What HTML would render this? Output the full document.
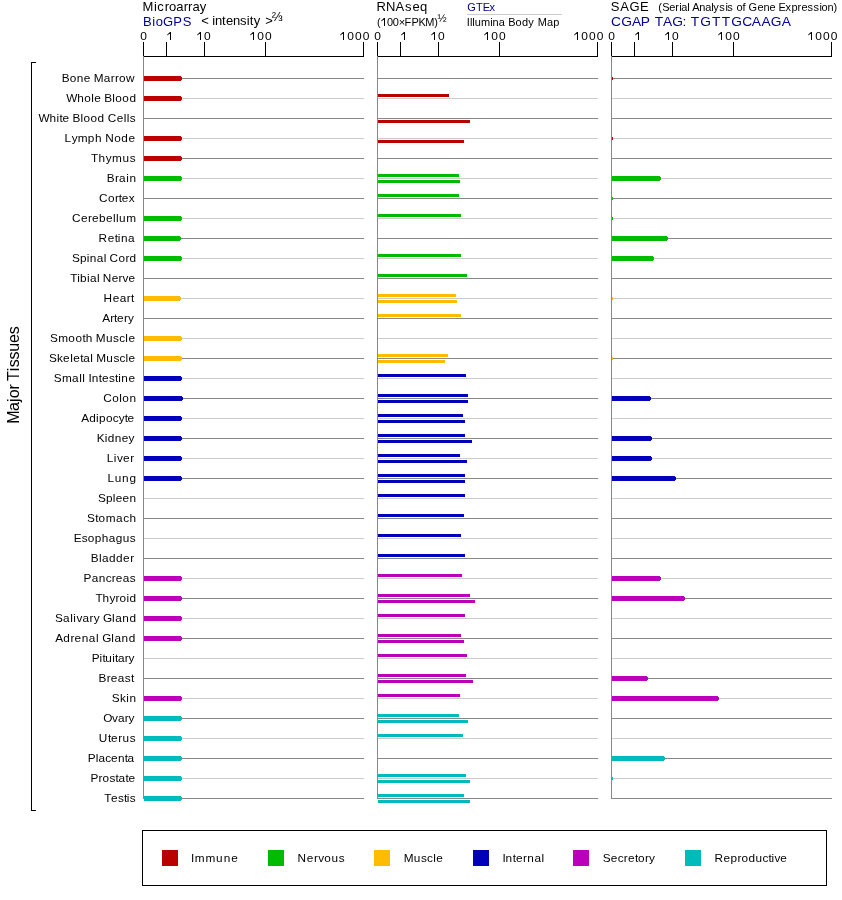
<!DOCTYPE html>
<html><head><meta charset="utf-8"><style>
html,body{margin:0;padding:0;background:#fff;}
#w{will-change:transform;width:842px;height:900px;}
svg{display:block;}
text{font-family:"Liberation Sans", sans-serif;}
</style></head><body><div id="w">
<svg width="842" height="900" viewBox="0 0 842 900" shape-rendering="crispEdges">
<text x="142.53 153.9 157.27 164.63 169.0 176.36 183.73 188.09 192.46 199.83" y="11" font-size="13" fill="#000" color="#000">Microarray</text>
<text x="142.93 152.29 155.65 163.01 173.37 182.73" y="26" font-size="13" fill="#000090" color="#000090">BioGPS</text>
<text x="201.36" y="25" font-size="13" fill="#000" color="#000">&lt;</text>
<text x="212.13 215.08 222.03 225.98 232.93 239.88 246.83 249.78 253.73" y="25" font-size="13" fill="#000" color="#000">intensity</text>
<text x="265.36" y="25" font-size="13" fill="#000" color="#000">&gt;</text>
<text x="271.78" y="21" font-size="13" fill="#000" color="#000">⅔</text>
<text x="376.53 386.01 395.48 404.95 412.43 419.9" y="11" font-size="13" fill="#000" color="#000">RNAseq</text>
<rect x="384" y="18" width="1" height="8" fill="#000"/>
<path d="M385 18 L384 18 L381.3 20.6 L381.3 21.5 L384.2 19.2 Z" fill="#000" shape-rendering="geometricPrecision"/>
<text transform="translate(0 26) scale(1 0.95)" x="377.12 386.92 392.82 398.72 404.62 411.52 418.42 425.32 434.22" y="0" font-size="11" fill="#000" color="#000">(00×FPKM)</text>
<text x="437.5" y="22" font-size="11" fill="#000" color="#000">½</text>
<text transform="translate(0 11) scale(1 0.94)" x="467.25 476.04 482.83 489.62" y="0" font-size="11" fill="#000090" color="#000090">GTEx</text>
<rect x="467" y="14" width="95" height="1" fill="#cccccc"/>
<text transform="translate(0 26) scale(1 0.95)" x="466.78 470.07 472.35 474.64 480.92 490.21 492.49 498.78 508.35 515.63 521.92 528.2 537.77 547.06 553.34" y="0" font-size="11" fill="#000" color="#000">IlluminaBodyMap</text>
<text x="610.81 620.17 629.53 639.89" y="11" font-size="13" fill="#000" color="#000">SAGE</text>
<text transform="translate(0 11) scale(1 0.94)" x="658.22 662.23 669.24 675.25 679.26 681.28 687.29 692.31 699.32 705.33 711.34 713.36 719.37 725.38 727.39 736.41 742.42 748.45 757.46 763.47 769.48 778.5 785.52 791.53 797.54 801.55 807.56 813.57 819.58 821.6 827.61 833.62" y="0" font-size="11" fill="#000" color="#000">(SerialAnalysisofGeneExpression)</text>
<text transform="scale(1.06 1)" x="576.51 586.044 596.201 604.405 617.585 625.446 634.252 643.813 651.595 660.667 671.689 680.84 689.912 700.283 709.314 718.371 727.082 737.427" y="26" font-size="13" fill="#000090">CGAPTAG:TGTTGCAAGA</text>
<rect x="143" y="56" width="221" height="1" fill="#000"/>
<rect x="143" y="42" width="1" height="14" fill="#000"/>
<rect x="166" y="42" width="1" height="14" fill="#000"/>
<rect x="204" y="42" width="1" height="14" fill="#000"/>
<rect x="265" y="42" width="1" height="14" fill="#000"/>
<rect x="363" y="42" width="1" height="14" fill="#000"/>
<rect x="377" y="56" width="221" height="1" fill="#000"/>
<rect x="377" y="42" width="1" height="14" fill="#000"/>
<rect x="400" y="42" width="1" height="14" fill="#000"/>
<rect x="438" y="42" width="1" height="14" fill="#000"/>
<rect x="499" y="42" width="1" height="14" fill="#000"/>
<rect x="597" y="42" width="1" height="14" fill="#000"/>
<rect x="611" y="56" width="221" height="1" fill="#000"/>
<rect x="611" y="42" width="1" height="14" fill="#000"/>
<rect x="634" y="42" width="1" height="14" fill="#000"/>
<rect x="672" y="42" width="1" height="14" fill="#000"/>
<rect x="733" y="42" width="1" height="14" fill="#000"/>
<rect x="831" y="42" width="1" height="14" fill="#000"/>
<text transform="translate(0 40) scale(1 0.95)" x="140.28" y="0" font-size="12" fill="#000" color="#000">0</text>
<rect x="170" y="32" width="1" height="8" fill="#000"/>
<path d="M171 32 L170 32 L167.3 34.6 L167.3 35.5 L170.2 33.2 Z" fill="#000" shape-rendering="geometricPrecision"/>
<rect x="200" y="32" width="1" height="8" fill="#000"/>
<path d="M201 32 L200 32 L197.3 34.6 L197.3 35.5 L200.2 33.2 Z" fill="#000" shape-rendering="geometricPrecision"/>
<text transform="translate(0 40) scale(1 0.95)" x="203.89" y="0" font-size="12" fill="#000" color="#000">0</text>
<rect x="253" y="32" width="1" height="8" fill="#000"/>
<path d="M254 32 L253 32 L250.3 34.6 L250.3 35.5 L253.2 33.2 Z" fill="#000" shape-rendering="geometricPrecision"/>
<text transform="translate(0 40) scale(1 0.95)" x="257.19 264.99" y="0" font-size="12" fill="#000" color="#000">00</text>
<rect x="343" y="32" width="1" height="8" fill="#000"/>
<path d="M344 32 L343 32 L340.3 34.6 L340.3 35.5 L343.2 33.2 Z" fill="#000" shape-rendering="geometricPrecision"/>
<text transform="translate(0 40) scale(1 0.95)" x="347.22 354.96 362.69" y="0" font-size="12" fill="#000" color="#000">000</text>
<text transform="translate(0 40) scale(1 0.95)" x="374.28" y="0" font-size="12" fill="#000" color="#000">0</text>
<rect x="404" y="32" width="1" height="8" fill="#000"/>
<path d="M405 32 L404 32 L401.3 34.6 L401.3 35.5 L404.2 33.2 Z" fill="#000" shape-rendering="geometricPrecision"/>
<rect x="434" y="32" width="1" height="8" fill="#000"/>
<path d="M435 32 L434 32 L431.3 34.6 L431.3 35.5 L434.2 33.2 Z" fill="#000" shape-rendering="geometricPrecision"/>
<text transform="translate(0 40) scale(1 0.95)" x="437.89" y="0" font-size="12" fill="#000" color="#000">0</text>
<rect x="487" y="32" width="1" height="8" fill="#000"/>
<path d="M488 32 L487 32 L484.3 34.6 L484.3 35.5 L487.2 33.2 Z" fill="#000" shape-rendering="geometricPrecision"/>
<text transform="translate(0 40) scale(1 0.95)" x="491.19 498.99" y="0" font-size="12" fill="#000" color="#000">00</text>
<rect x="577" y="32" width="1" height="8" fill="#000"/>
<path d="M578 32 L577 32 L574.3 34.6 L574.3 35.5 L577.2 33.2 Z" fill="#000" shape-rendering="geometricPrecision"/>
<text transform="translate(0 40) scale(1 0.95)" x="581.22 588.96 596.69" y="0" font-size="12" fill="#000" color="#000">000</text>
<text transform="translate(0 40) scale(1 0.95)" x="608.28" y="0" font-size="12" fill="#000" color="#000">0</text>
<rect x="638" y="32" width="1" height="8" fill="#000"/>
<path d="M639 32 L638 32 L635.3 34.6 L635.3 35.5 L638.2 33.2 Z" fill="#000" shape-rendering="geometricPrecision"/>
<rect x="668" y="32" width="1" height="8" fill="#000"/>
<path d="M669 32 L668 32 L665.3 34.6 L665.3 35.5 L668.2 33.2 Z" fill="#000" shape-rendering="geometricPrecision"/>
<text transform="translate(0 40) scale(1 0.95)" x="671.89" y="0" font-size="12" fill="#000" color="#000">0</text>
<rect x="721" y="32" width="1" height="8" fill="#000"/>
<path d="M722 32 L721 32 L718.3 34.6 L718.3 35.5 L721.2 33.2 Z" fill="#000" shape-rendering="geometricPrecision"/>
<text transform="translate(0 40) scale(1 0.95)" x="725.19 732.99" y="0" font-size="12" fill="#000" color="#000">00</text>
<rect x="811" y="32" width="1" height="8" fill="#000"/>
<path d="M812 32 L811 32 L808.3 34.6 L808.3 35.5 L811.2 33.2 Z" fill="#000" shape-rendering="geometricPrecision"/>
<text transform="translate(0 40) scale(1 0.95)" x="815.22 822.96 830.69" y="0" font-size="12" fill="#000" color="#000">000</text>
<rect x="143" y="78" width="221" height="1" fill="#888888"/>
<rect x="377" y="78" width="221" height="1" fill="#888888"/>
<rect x="611" y="78" width="221" height="1" fill="#888888"/>
<text transform="translate(0 82) scale(1 0.97)" x="61.73 69.75 76.78 83.8 93.84 103.86 110.88 114.91 118.93 125.95" y="0" font-size="11.8" fill="#000" color="#000">BoneMarrow</text>
<rect x="143" y="98" width="221" height="1" fill="#cccccc"/>
<rect x="377" y="98" width="221" height="1" fill="#cccccc"/>
<rect x="611" y="98" width="221" height="1" fill="#cccccc"/>
<text transform="translate(0 102) scale(1 0.97)" x="66.25 77.26 84.28 91.29 94.31 104.34 112.35 115.37 122.38 129.4" y="0" font-size="11.8" fill="#000" color="#000">WholeBlood</text>
<rect x="143" y="118" width="221" height="1" fill="#888888"/>
<rect x="377" y="118" width="221" height="1" fill="#888888"/>
<rect x="611" y="118" width="221" height="1" fill="#888888"/>
<text transform="translate(0 122) scale(1 0.97)" x="38.45 49.47 56.48 59.5 62.52 72.55 80.57 83.59 90.6 97.62 107.66 116.67 123.69 126.71 129.73" y="0" font-size="11.8" fill="#000" color="#000">WhiteBloodCells</text>
<rect x="143" y="138" width="221" height="1" fill="#cccccc"/>
<rect x="377" y="138" width="221" height="1" fill="#cccccc"/>
<rect x="611" y="138" width="221" height="1" fill="#cccccc"/>
<text transform="translate(0 142) scale(1 0.97)" x="64.53 71.64 77.74 87.84 94.95 105.15 114.26 121.36 128.46" y="0" font-size="11.8" fill="#000" color="#000">LymphNode</text>
<rect x="143" y="158" width="221" height="1" fill="#888888"/>
<rect x="377" y="158" width="221" height="1" fill="#888888"/>
<rect x="611" y="158" width="221" height="1" fill="#888888"/>
<text transform="translate(0 162) scale(1 0.97)" x="91.13 98.45 105.77 112.09 122.41 129.73" y="0" font-size="11.8" fill="#000" color="#000">Thymus</text>
<rect x="143" y="178" width="221" height="1" fill="#cccccc"/>
<rect x="377" y="178" width="221" height="1" fill="#cccccc"/>
<rect x="611" y="178" width="221" height="1" fill="#cccccc"/>
<text transform="translate(0 182) scale(1 0.97)" x="106.73 114.9 119.07 126.24 129.4" y="0" font-size="11.8" fill="#000" color="#000">Brain</text>
<rect x="143" y="198" width="221" height="1" fill="#888888"/>
<rect x="377" y="198" width="221" height="1" fill="#888888"/>
<rect x="611" y="198" width="221" height="1" fill="#888888"/>
<text transform="translate(0 202) scale(1 0.97)" x="99.0 107.95 114.89 118.84 121.78 128.73" y="0" font-size="11.8" fill="#000" color="#000">Cortex</text>
<rect x="143" y="218" width="221" height="1" fill="#cccccc"/>
<rect x="377" y="218" width="221" height="1" fill="#cccccc"/>
<rect x="611" y="218" width="221" height="1" fill="#cccccc"/>
<text transform="translate(0 222) scale(1 0.97)" x="71.9 80.93 87.96 91.98 99.01 106.04 113.07 116.09 119.12 126.15" y="0" font-size="11.8" fill="#000" color="#000">Cerebellum</text>
<rect x="143" y="238" width="221" height="1" fill="#888888"/>
<rect x="377" y="238" width="221" height="1" fill="#888888"/>
<rect x="611" y="238" width="221" height="1" fill="#888888"/>
<text transform="translate(0 242) scale(1 0.97)" x="98.63 107.69 114.75 117.82 120.88 127.94" y="0" font-size="11.8" fill="#000" color="#000">Retina</text>
<rect x="143" y="258" width="221" height="1" fill="#cccccc"/>
<rect x="377" y="258" width="221" height="1" fill="#cccccc"/>
<rect x="611" y="258" width="221" height="1" fill="#cccccc"/>
<text transform="translate(0 262) scale(1 0.97)" x="71.96 79.91 86.85 89.79 96.74 103.68 109.57 118.51 125.45 129.4" y="0" font-size="11.8" fill="#000" color="#000">SpinalCord</text>
<rect x="143" y="278" width="221" height="1" fill="#888888"/>
<rect x="377" y="278" width="221" height="1" fill="#888888"/>
<rect x="611" y="278" width="221" height="1" fill="#888888"/>
<text transform="translate(0 282) scale(1 0.97)" x="70.23 77.16 80.09 87.02 89.95 96.88 102.74 111.67 118.6 122.53 128.46" y="0" font-size="11.8" fill="#000" color="#000">TibialNerve</text>
<rect x="143" y="298" width="221" height="1" fill="#cccccc"/>
<rect x="377" y="298" width="221" height="1" fill="#cccccc"/>
<rect x="611" y="298" width="221" height="1" fill="#cccccc"/>
<text transform="translate(0 302) scale(1 0.97)" x="103.53 112.63 119.72 126.81 130.91" y="0" font-size="11.8" fill="#000" color="#000">Heart</text>
<rect x="143" y="318" width="221" height="1" fill="#888888"/>
<rect x="377" y="318" width="221" height="1" fill="#888888"/>
<rect x="611" y="318" width="221" height="1" fill="#888888"/>
<text transform="translate(0 322) scale(1 0.97)" x="102.18 110.15 114.12 117.08 124.05 128.02" y="0" font-size="11.8" fill="#000" color="#000">Artery</text>
<rect x="143" y="338" width="221" height="1" fill="#cccccc"/>
<rect x="377" y="338" width="221" height="1" fill="#cccccc"/>
<rect x="611" y="338" width="221" height="1" fill="#cccccc"/>
<text transform="translate(0 342) scale(1 0.97)" x="50.06 58.18 68.3 75.41 82.53 85.65 95.88 106.0 113.11 119.23 125.35 128.46" y="0" font-size="11.8" fill="#000" color="#000">SmoothMuscle</text>
<rect x="143" y="358" width="221" height="1" fill="#888888"/>
<rect x="377" y="358" width="221" height="1" fill="#888888"/>
<rect x="611" y="358" width="221" height="1" fill="#888888"/>
<text transform="translate(0 362) scale(1 0.97)" x="49.06 57.09 63.12 70.15 73.18 80.21 83.23 90.26 96.32 106.35 113.38 119.4 125.43 128.46" y="0" font-size="11.8" fill="#000" color="#000">SkeletalMuscle</text>
<rect x="143" y="378" width="221" height="1" fill="#cccccc"/>
<rect x="377" y="378" width="221" height="1" fill="#cccccc"/>
<rect x="611" y="378" width="221" height="1" fill="#cccccc"/>
<text transform="translate(0 382) scale(1 0.97)" x="53.86 61.98 72.09 79.21 82.32 88.55 91.66 98.78 101.89 109.01 115.12 118.23 121.35 128.46" y="0" font-size="11.8" fill="#000" color="#000">SmallIntestine</text>
<rect x="143" y="398" width="221" height="1" fill="#888888"/>
<rect x="377" y="398" width="221" height="1" fill="#888888"/>
<rect x="611" y="398" width="221" height="1" fill="#888888"/>
<text transform="translate(0 402) scale(1 0.97)" x="103.2 112.25 119.3 122.35 129.4" y="0" font-size="11.8" fill="#000" color="#000">Colon</text>
<rect x="143" y="418" width="221" height="1" fill="#cccccc"/>
<rect x="377" y="418" width="221" height="1" fill="#cccccc"/>
<rect x="611" y="418" width="221" height="1" fill="#cccccc"/>
<text transform="translate(0 422) scale(1 0.97)" x="81.28 89.19 96.1 99.01 105.92 112.83 118.74 124.65 127.56" y="0" font-size="11.8" fill="#000" color="#000">Adipocyte</text>
<rect x="143" y="438" width="221" height="1" fill="#888888"/>
<rect x="377" y="438" width="221" height="1" fill="#888888"/>
<rect x="611" y="438" width="221" height="1" fill="#888888"/>
<text transform="translate(0 442) scale(1 0.97)" x="96.73 104.71 107.69 114.67 121.64 128.62" y="0" font-size="11.8" fill="#000" color="#000">Kidney</text>
<rect x="143" y="458" width="221" height="1" fill="#cccccc"/>
<rect x="377" y="458" width="221" height="1" fill="#cccccc"/>
<rect x="611" y="458" width="221" height="1" fill="#cccccc"/>
<text transform="translate(0 462) scale(1 0.97)" x="106.73 113.84 116.95 123.06 130.17" y="0" font-size="11.8" fill="#000" color="#000">Liver</text>
<rect x="143" y="478" width="221" height="1" fill="#888888"/>
<rect x="377" y="478" width="221" height="1" fill="#888888"/>
<rect x="611" y="478" width="221" height="1" fill="#888888"/>
<text transform="translate(0 482) scale(1 0.97)" x="107.43 114.75 122.08 129.4" y="0" font-size="11.8" fill="#000" color="#000">Lung</text>
<rect x="143" y="498" width="221" height="1" fill="#cccccc"/>
<rect x="377" y="498" width="221" height="1" fill="#cccccc"/>
<rect x="611" y="498" width="221" height="1" fill="#cccccc"/>
<text transform="translate(0 502) scale(1 0.97)" x="98.06 105.93 112.8 115.67 122.54 129.4" y="0" font-size="11.8" fill="#000" color="#000">Spleen</text>
<rect x="143" y="518" width="221" height="1" fill="#888888"/>
<rect x="377" y="518" width="221" height="1" fill="#888888"/>
<rect x="611" y="518" width="221" height="1" fill="#888888"/>
<text transform="translate(0 522) scale(1 0.97)" x="86.96 95.2 98.44 105.68 115.92 123.16 129.4" y="0" font-size="11.8" fill="#000" color="#000">Stomach</text>
<rect x="143" y="538" width="221" height="1" fill="#cccccc"/>
<rect x="377" y="538" width="221" height="1" fill="#cccccc"/>
<rect x="611" y="538" width="221" height="1" fill="#cccccc"/>
<text transform="translate(0 542) scale(1 0.97)" x="73.83 81.82 87.81 94.79 101.78 108.77 115.75 122.74 129.73" y="0" font-size="11.8" fill="#000" color="#000">Esophagus</text>
<rect x="143" y="558" width="221" height="1" fill="#888888"/>
<rect x="377" y="558" width="221" height="1" fill="#888888"/>
<rect x="611" y="558" width="221" height="1" fill="#888888"/>
<text transform="translate(0 562) scale(1 0.97)" x="90.83 98.89 101.94 109.0 116.05 123.11 130.17" y="0" font-size="11.8" fill="#000" color="#000">Bladder</text>
<rect x="143" y="578" width="221" height="1" fill="#cccccc"/>
<rect x="377" y="578" width="221" height="1" fill="#cccccc"/>
<rect x="611" y="578" width="221" height="1" fill="#cccccc"/>
<text transform="translate(0 582) scale(1 0.97)" x="83.63 91.65 98.66 105.67 111.69 115.7 122.71 129.73" y="0" font-size="11.8" fill="#000" color="#000">Pancreas</text>
<rect x="143" y="598" width="221" height="1" fill="#888888"/>
<rect x="377" y="598" width="221" height="1" fill="#888888"/>
<rect x="611" y="598" width="221" height="1" fill="#888888"/>
<text transform="translate(0 602) scale(1 0.97)" x="95.43 102.43 109.42 115.42 119.41 126.4 129.4" y="0" font-size="11.8" fill="#000" color="#000">Thyroid</text>
<rect x="143" y="618" width="221" height="1" fill="#cccccc"/>
<rect x="377" y="618" width="221" height="1" fill="#cccccc"/>
<rect x="611" y="618" width="221" height="1" fill="#cccccc"/>
<text transform="translate(0 622) scale(1 0.97)" x="54.96 63.07 70.18 73.3 76.41 82.52 89.63 93.74 102.96 112.07 115.18 122.29 129.4" y="0" font-size="11.8" fill="#000" color="#000">SalivaryGland</text>
<rect x="143" y="638" width="221" height="1" fill="#888888"/>
<rect x="377" y="638" width="221" height="1" fill="#888888"/>
<rect x="611" y="638" width="221" height="1" fill="#888888"/>
<text transform="translate(0 642) scale(1 0.97)" x="55.18 63.3 70.43 74.56 81.68 88.81 95.94 102.19 111.32 114.44 121.57 128.7" y="0" font-size="11.8" fill="#000" color="#000">AdrenalGland</text>
<rect x="143" y="658" width="221" height="1" fill="#cccccc"/>
<rect x="377" y="658" width="221" height="1" fill="#cccccc"/>
<rect x="611" y="658" width="221" height="1" fill="#cccccc"/>
<text transform="translate(0 662) scale(1 0.97)" x="91.73 99.59 102.45 105.32 112.18 115.04 117.9 124.76 128.62" y="0" font-size="11.8" fill="#000" color="#000">Pituitary</text>
<rect x="143" y="678" width="221" height="1" fill="#888888"/>
<rect x="377" y="678" width="221" height="1" fill="#888888"/>
<rect x="611" y="678" width="221" height="1" fill="#888888"/>
<text transform="translate(0 682) scale(1 0.97)" x="98.63 106.69 110.74 117.8 124.85 130.91" y="0" font-size="11.8" fill="#000" color="#000">Breast</text>
<rect x="143" y="698" width="221" height="1" fill="#cccccc"/>
<rect x="377" y="698" width="221" height="1" fill="#cccccc"/>
<rect x="611" y="698" width="221" height="1" fill="#cccccc"/>
<text transform="translate(0 702) scale(1 0.97)" x="111.76 119.98 126.19 129.4" y="0" font-size="11.8" fill="#000" color="#000">Skin</text>
<rect x="143" y="718" width="221" height="1" fill="#888888"/>
<rect x="377" y="718" width="221" height="1" fill="#888888"/>
<rect x="611" y="718" width="221" height="1" fill="#888888"/>
<text transform="translate(0 722) scale(1 0.97)" x="103.24 112.09 117.93 124.78 128.62" y="0" font-size="11.8" fill="#000" color="#000">Ovary</text>
<rect x="143" y="738" width="221" height="1" fill="#cccccc"/>
<rect x="377" y="738" width="221" height="1" fill="#cccccc"/>
<rect x="611" y="738" width="221" height="1" fill="#cccccc"/>
<text transform="translate(0 742) scale(1 0.97)" x="98.69 107.9 111.1 118.31 122.52 129.73" y="0" font-size="11.8" fill="#000" color="#000">Uterus</text>
<rect x="143" y="758" width="221" height="1" fill="#888888"/>
<rect x="377" y="758" width="221" height="1" fill="#888888"/>
<rect x="611" y="758" width="221" height="1" fill="#888888"/>
<text transform="translate(0 762) scale(1 0.97)" x="87.83 95.65 98.46 105.28 111.09 117.91 124.72 127.54" y="0" font-size="11.8" fill="#000" color="#000">Placenta</text>
<rect x="143" y="778" width="221" height="1" fill="#cccccc"/>
<rect x="377" y="778" width="221" height="1" fill="#cccccc"/>
<rect x="611" y="778" width="221" height="1" fill="#cccccc"/>
<text transform="translate(0 782) scale(1 0.97)" x="90.43 98.44 102.44 109.44 115.45 118.45 125.46 128.46" y="0" font-size="11.8" fill="#000" color="#000">Prostate</text>
<rect x="143" y="798" width="221" height="1" fill="#888888"/>
<rect x="377" y="798" width="221" height="1" fill="#888888"/>
<rect x="611" y="798" width="221" height="1" fill="#888888"/>
<text transform="translate(0 802) scale(1 0.97)" x="104.23 111.13 118.03 123.93 126.83 129.73" y="0" font-size="11.8" fill="#000" color="#000">Testis</text>
<rect x="143" y="56" width="1" height="743" fill="#888888"/>
<rect x="377" y="56" width="1" height="743" fill="#888888"/>
<rect x="611" y="56" width="1" height="743" fill="#888888"/>
<rect x="144" y="76" width="37" height="5" fill="#bb0000"/>
<rect x="181" y="77" width="1" height="3" fill="#bb0000"/>
<rect x="612" y="77" width="1" height="3" fill="#bb0000"/>
<rect x="144" y="96" width="37" height="5" fill="#bb0000"/>
<rect x="181" y="97" width="1" height="3" fill="#bb0000"/>
<rect x="378" y="94" width="71" height="3" fill="#bb0000"/>
<rect x="378" y="120" width="92" height="3" fill="#bb0000"/>
<rect x="144" y="136" width="37" height="5" fill="#bb0000"/>
<rect x="181" y="137" width="1" height="3" fill="#bb0000"/>
<rect x="378" y="140" width="86" height="3" fill="#bb0000"/>
<rect x="612" y="137" width="1" height="3" fill="#bb0000"/>
<rect x="144" y="156" width="37" height="5" fill="#bb0000"/>
<rect x="181" y="157" width="1" height="3" fill="#bb0000"/>
<rect x="144" y="176" width="37" height="5" fill="#00bb00"/>
<rect x="181" y="177" width="1" height="3" fill="#00bb00"/>
<rect x="378" y="174" width="81" height="3" fill="#00bb00"/>
<rect x="378" y="180" width="82" height="3" fill="#00bb00"/>
<rect x="612" y="176" width="48" height="5" fill="#00bb00"/>
<rect x="660" y="177" width="1" height="3" fill="#00bb00"/>
<rect x="378" y="194" width="81" height="3" fill="#00bb00"/>
<rect x="612" y="197" width="1" height="3" fill="#00bb00"/>
<rect x="144" y="216" width="37" height="5" fill="#00bb00"/>
<rect x="181" y="217" width="1" height="3" fill="#00bb00"/>
<rect x="378" y="214" width="83" height="3" fill="#00bb00"/>
<rect x="612" y="217" width="1" height="3" fill="#00bb00"/>
<rect x="144" y="236" width="36" height="5" fill="#00bb00"/>
<rect x="180" y="237" width="1" height="3" fill="#00bb00"/>
<rect x="612" y="236" width="55" height="5" fill="#00bb00"/>
<rect x="667" y="237" width="1" height="3" fill="#00bb00"/>
<rect x="144" y="256" width="37" height="5" fill="#00bb00"/>
<rect x="181" y="257" width="1" height="3" fill="#00bb00"/>
<rect x="378" y="254" width="83" height="3" fill="#00bb00"/>
<rect x="612" y="256" width="41" height="5" fill="#00bb00"/>
<rect x="653" y="257" width="1" height="3" fill="#00bb00"/>
<rect x="378" y="274" width="89" height="3" fill="#00bb00"/>
<rect x="144" y="296" width="36" height="5" fill="#ffbb00"/>
<rect x="180" y="297" width="1" height="3" fill="#ffbb00"/>
<rect x="378" y="294" width="78" height="3" fill="#ffbb00"/>
<rect x="378" y="300" width="79" height="3" fill="#ffbb00"/>
<rect x="612" y="297" width="1" height="3" fill="#ffbb00"/>
<rect x="378" y="314" width="83" height="3" fill="#ffbb00"/>
<rect x="144" y="336" width="37" height="5" fill="#ffbb00"/>
<rect x="181" y="337" width="1" height="3" fill="#ffbb00"/>
<rect x="144" y="356" width="37" height="5" fill="#ffbb00"/>
<rect x="181" y="357" width="1" height="3" fill="#ffbb00"/>
<rect x="378" y="354" width="70" height="3" fill="#ffbb00"/>
<rect x="378" y="360" width="67" height="3" fill="#ffbb00"/>
<rect x="612" y="357" width="1" height="3" fill="#ffbb00"/>
<rect x="144" y="376" width="37" height="5" fill="#0000bb"/>
<rect x="181" y="377" width="1" height="3" fill="#0000bb"/>
<rect x="378" y="374" width="88" height="3" fill="#0000bb"/>
<rect x="144" y="396" width="38" height="5" fill="#0000bb"/>
<rect x="182" y="397" width="1" height="3" fill="#0000bb"/>
<rect x="378" y="394" width="90" height="3" fill="#0000bb"/>
<rect x="378" y="400" width="90" height="3" fill="#0000bb"/>
<rect x="612" y="396" width="38" height="5" fill="#0000bb"/>
<rect x="650" y="397" width="1" height="3" fill="#0000bb"/>
<rect x="144" y="416" width="37" height="5" fill="#0000bb"/>
<rect x="181" y="417" width="1" height="3" fill="#0000bb"/>
<rect x="378" y="414" width="85" height="3" fill="#0000bb"/>
<rect x="378" y="420" width="87" height="3" fill="#0000bb"/>
<rect x="144" y="436" width="37" height="5" fill="#0000bb"/>
<rect x="181" y="437" width="1" height="3" fill="#0000bb"/>
<rect x="378" y="434" width="87" height="3" fill="#0000bb"/>
<rect x="378" y="440" width="94" height="3" fill="#0000bb"/>
<rect x="612" y="436" width="39" height="5" fill="#0000bb"/>
<rect x="651" y="437" width="1" height="3" fill="#0000bb"/>
<rect x="144" y="456" width="37" height="5" fill="#0000bb"/>
<rect x="181" y="457" width="1" height="3" fill="#0000bb"/>
<rect x="378" y="454" width="82" height="3" fill="#0000bb"/>
<rect x="378" y="460" width="89" height="3" fill="#0000bb"/>
<rect x="612" y="456" width="39" height="5" fill="#0000bb"/>
<rect x="651" y="457" width="1" height="3" fill="#0000bb"/>
<rect x="144" y="476" width="37" height="5" fill="#0000bb"/>
<rect x="181" y="477" width="1" height="3" fill="#0000bb"/>
<rect x="378" y="474" width="87" height="3" fill="#0000bb"/>
<rect x="378" y="480" width="87" height="3" fill="#0000bb"/>
<rect x="612" y="476" width="63" height="5" fill="#0000bb"/>
<rect x="675" y="477" width="1" height="3" fill="#0000bb"/>
<rect x="378" y="494" width="87" height="3" fill="#0000bb"/>
<rect x="378" y="514" width="86" height="3" fill="#0000bb"/>
<rect x="378" y="534" width="83" height="3" fill="#0000bb"/>
<rect x="378" y="554" width="87" height="3" fill="#0000bb"/>
<rect x="144" y="576" width="37" height="5" fill="#bb00bb"/>
<rect x="181" y="577" width="1" height="3" fill="#bb00bb"/>
<rect x="378" y="574" width="84" height="3" fill="#bb00bb"/>
<rect x="612" y="576" width="48" height="5" fill="#bb00bb"/>
<rect x="660" y="577" width="1" height="3" fill="#bb00bb"/>
<rect x="144" y="596" width="37" height="5" fill="#bb00bb"/>
<rect x="181" y="597" width="1" height="3" fill="#bb00bb"/>
<rect x="378" y="594" width="92" height="3" fill="#bb00bb"/>
<rect x="378" y="600" width="97" height="3" fill="#bb00bb"/>
<rect x="612" y="596" width="72" height="5" fill="#bb00bb"/>
<rect x="684" y="597" width="1" height="3" fill="#bb00bb"/>
<rect x="144" y="616" width="37" height="5" fill="#bb00bb"/>
<rect x="181" y="617" width="1" height="3" fill="#bb00bb"/>
<rect x="378" y="614" width="87" height="3" fill="#bb00bb"/>
<rect x="144" y="636" width="37" height="5" fill="#bb00bb"/>
<rect x="181" y="637" width="1" height="3" fill="#bb00bb"/>
<rect x="378" y="634" width="83" height="3" fill="#bb00bb"/>
<rect x="378" y="640" width="86" height="3" fill="#bb00bb"/>
<rect x="378" y="654" width="89" height="3" fill="#bb00bb"/>
<rect x="378" y="674" width="88" height="3" fill="#bb00bb"/>
<rect x="378" y="680" width="95" height="3" fill="#bb00bb"/>
<rect x="612" y="676" width="35" height="5" fill="#bb00bb"/>
<rect x="647" y="677" width="1" height="3" fill="#bb00bb"/>
<rect x="144" y="696" width="37" height="5" fill="#bb00bb"/>
<rect x="181" y="697" width="1" height="3" fill="#bb00bb"/>
<rect x="378" y="694" width="82" height="3" fill="#bb00bb"/>
<rect x="612" y="696" width="106" height="5" fill="#bb00bb"/>
<rect x="718" y="697" width="1" height="3" fill="#bb00bb"/>
<rect x="144" y="716" width="37" height="5" fill="#00bbbb"/>
<rect x="181" y="717" width="1" height="3" fill="#00bbbb"/>
<rect x="378" y="714" width="81" height="3" fill="#00bbbb"/>
<rect x="378" y="720" width="90" height="3" fill="#00bbbb"/>
<rect x="144" y="736" width="37" height="5" fill="#00bbbb"/>
<rect x="181" y="737" width="1" height="3" fill="#00bbbb"/>
<rect x="378" y="734" width="85" height="3" fill="#00bbbb"/>
<rect x="144" y="756" width="37" height="5" fill="#00bbbb"/>
<rect x="181" y="757" width="1" height="3" fill="#00bbbb"/>
<rect x="612" y="756" width="52" height="5" fill="#00bbbb"/>
<rect x="664" y="757" width="1" height="3" fill="#00bbbb"/>
<rect x="144" y="776" width="37" height="5" fill="#00bbbb"/>
<rect x="181" y="777" width="1" height="3" fill="#00bbbb"/>
<rect x="378" y="774" width="88" height="3" fill="#00bbbb"/>
<rect x="378" y="780" width="92" height="3" fill="#00bbbb"/>
<rect x="612" y="777" width="1" height="3" fill="#00bbbb"/>
<rect x="144" y="796" width="37" height="5" fill="#00bbbb"/>
<rect x="181" y="797" width="1" height="3" fill="#00bbbb"/>
<rect x="378" y="794" width="86" height="3" fill="#00bbbb"/>
<rect x="378" y="800" width="92" height="3" fill="#00bbbb"/>
<rect x="31" y="62" width="1" height="749" fill="#000"/>
<rect x="31" y="62" width="5" height="1" fill="#000"/>
<rect x="31" y="810" width="5" height="1" fill="#000"/>
<g transform="translate(19,422.4) rotate(-90)">
<text x="-1.31 11.49 20.29 24.09 32.88 41.48 51.28 55.08 62.88 70.68 79.48 88.28" y="0" font-size="16" fill="#000" color="#000">MajorTissues</text>
</g>
<rect x="142.5" y="830.5" width="684" height="55" fill="none" stroke="#000" stroke-width="1"/>
<rect x="162" y="850" width="16" height="16" fill="#bb0000"/>
<text transform="translate(0 862) scale(1 0.97)" x="191.11 194.76 205.41 216.06 223.71 231.36" y="0" font-size="11.8" fill="#000" color="#000">Immune</text>
<rect x="268" y="850" width="16" height="16" fill="#00bb00"/>
<text transform="translate(0 862) scale(1 0.97)" x="297.63 306.81 314.0 318.18 324.36 331.54 338.73" y="0" font-size="11.8" fill="#000" color="#000">Nervous</text>
<rect x="374" y="850" width="16" height="16" fill="#ffbb00"/>
<text transform="translate(0 862) scale(1 0.97)" x="403.73 413.84 420.94 427.05 433.16 436.26" y="0" font-size="11.8" fill="#000" color="#000">Muscle</text>
<rect x="473" y="850" width="16" height="16" fill="#0000bb"/>
<text transform="translate(0 862) scale(1 0.97)" x="502.41 505.58 512.74 515.91 523.07 527.24 534.4 541.57" y="0" font-size="11.8" fill="#000" color="#000">Internal</text>
<rect x="573" y="850" width="16" height="16" fill="#bb00bb"/>
<text transform="translate(0 862) scale(1 0.97)" x="602.66 610.72 617.78 623.84 627.89 634.95 638.01 645.07 649.12" y="0" font-size="11.8" fill="#000" color="#000">Secretory</text>
<rect x="685" y="850" width="16" height="16" fill="#00bbbb"/>
<text transform="translate(0 862) scale(1 0.97)" x="714.63 723.61 730.58 737.56 741.53 748.51 755.48 762.46 768.44 771.41 774.39 780.36" y="0" font-size="11.8" fill="#000" color="#000">Reproductive</text>
</svg>
</div></body></html>
